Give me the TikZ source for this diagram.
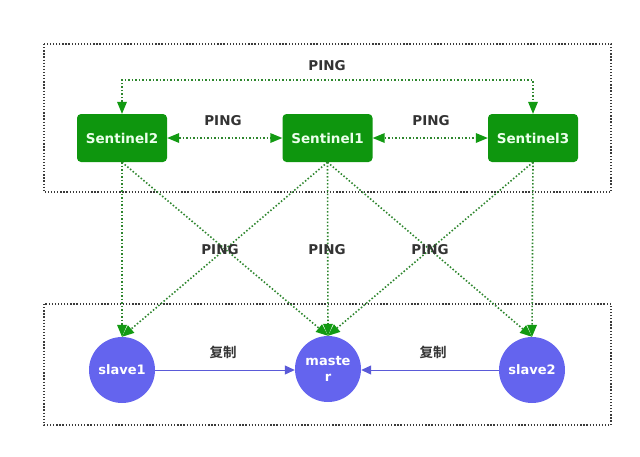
\documentclass[tikz,border=0pt]{standalone}
\usepackage{fontspec}
\setmainfont{DejaVu Sans}
\newfontfamily\cjk{Noto Sans CJK SC}[BoldFont={* Bold}]
\usetikzlibrary{arrows.meta}
\definecolor{sgreen}{HTML}{0E960E}
\definecolor{lgreen}{HTML}{2E862E}
\definecolor{tipgreen}{HTML}{129A12}
\definecolor{cblue}{HTML}{6464EE}
\definecolor{ablue}{HTML}{5A5AD8}
\definecolor{lbl}{HTML}{333333}
\definecolor{frame}{HTML}{3A3A3A}
\tikzset{
  gtip/.tip={Triangle[length=12pt,width=10pt,fill=tipgreen,color=tipgreen,line width=0pt]},
  sentbox/.style={draw=none, fill=sgreen, rounded corners=4pt, minimum width=90pt, minimum height=48pt,
    text=green!8!white, font=\fontsize{13.5}{15}\selectfont\bfseries, inner sep=0pt},
  redis/.style={circle, fill=cblue, minimum size=66pt, inner sep=0pt, text=white,
    font=\fontsize{13}{16}\selectfont\bfseries, align=center},
  ping/.style={draw=lgreen, line width=1.6pt, dash pattern=on 1.5pt off 2pt, -gtip},
  pingboth/.style={ping, gtip-gtip},
  copyarrow/.style={draw=ablue, line width=1pt, -{Triangle[length=10pt,width=9pt]}},
  frametype/.style={draw=frame, line width=1.3pt, dash pattern=on 1.3pt off 1.8pt},
  lab/.style={text=lbl, font=\fontsize{13.5}{15}\selectfont\bfseries, inner sep=0pt},
  cjklab/.style={text=lbl, font=\cjk\fontsize{13.5}{15}\selectfont\bfseries, inner sep=0pt},
}
\begin{document}
\begin{tikzpicture}[x=1pt,y=-1pt]
\useasboundingbox (0,0) rectangle (640,456);
% frames
\draw[frametype] (44,44) rectangle (611,192);
\draw[frametype] (44,304) rectangle (611,425);
% sentinels
\node[sentbox] (s2) at (122,138) {Sentinel2};
\node[sentbox] (s1) at (327.5,138) {Sentinel1};
\node[sentbox] (s3) at (533,138) {Sentinel3};
% redis nodes
\node[redis] (sl1) at (122,370) {slave1};
\node[redis] (ms) at (328,369) {maste\\r};
\node[redis] (sl2) at (532,370) {slave2};
% top ping
\coordinate (tl) at (122,80);
\coordinate (tr) at (533,80);
\draw[pingboth] (s2.north) -- (tl) -- (tr) -- (s3.north);
\node[lab] (p0) at (327,66) {PING};
% horizontal pings
\draw[pingboth] (s2.east) -- (s1.west);
\draw[pingboth] (s1.east) -- (s3.west);
\node[lab] (p1) at (223,121) {PING};
\node[lab] (p2) at (431,121) {PING};
% sentinel to redis
\draw[ping] (s2.south) -- (sl1.north);
\draw[ping] (s2.south) -- (ms.north);
\draw[ping] (s1.south) -- (sl1.north);
\draw[ping] (s1.south) -- (ms.north);
\draw[ping] (s1.south) -- (sl2.north);
\draw[ping] (s3.south) -- (ms.north);
\draw[ping] (s3.south) -- (sl2.north);
\node[lab] (p3) at (220,250) {PING};
\node[lab] (p4) at (327,250) {PING};
\node[lab] (p5) at (430,250) {PING};
% replication
\draw[copyarrow] (sl1.east) -- (ms.west |- sl1.east);
\draw[copyarrow] (sl2.west) -- (ms.east |- sl2.west);
\node[cjklab] (c1) at (223,352) {复制};
\node[cjklab] (c2) at (433,352) {复制};
\end{tikzpicture}
\end{document}
